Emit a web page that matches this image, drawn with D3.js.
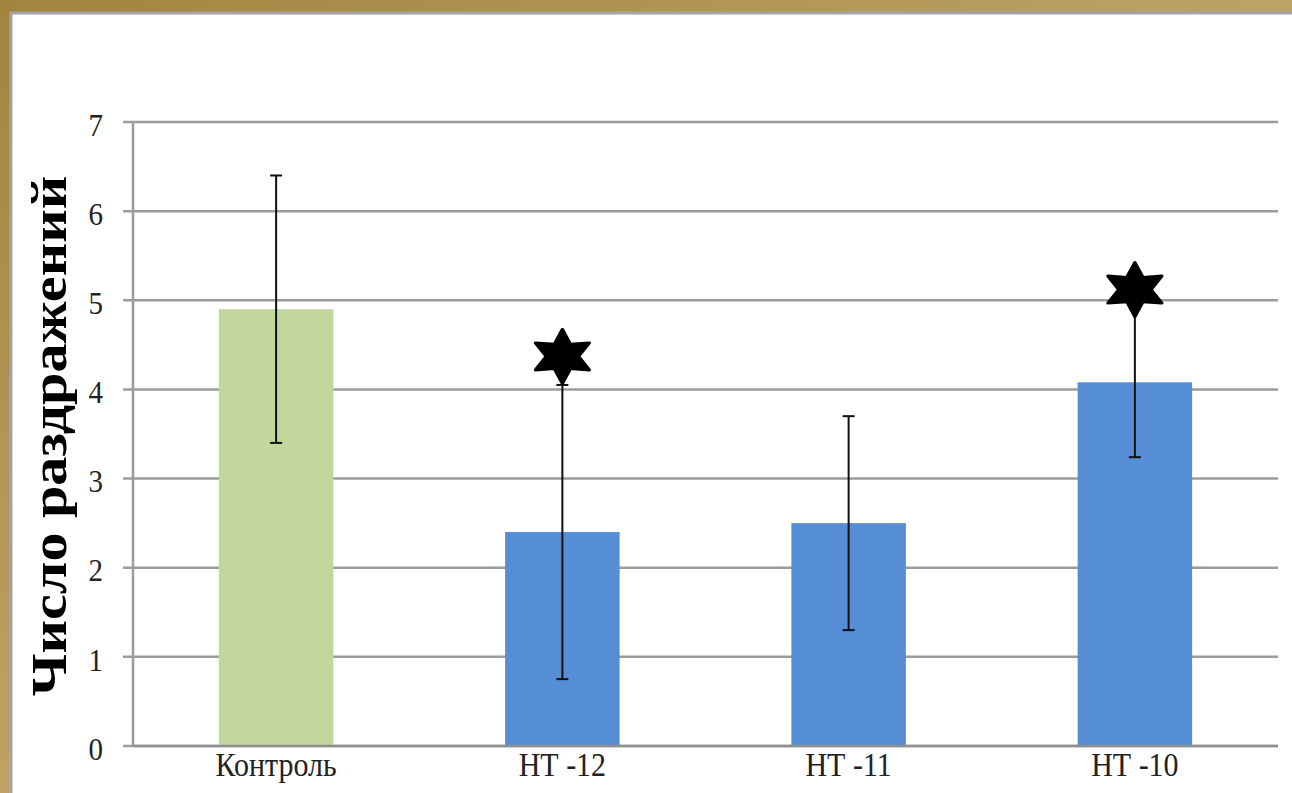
<!DOCTYPE html>
<html>
<head>
<meta charset="utf-8">
<script src="https://cdn.jsdelivr.net/npm/d3@7"></script>
<style>
  html, body { margin: 0; padding: 0; background: #fff; }
  svg { display: block; }
</style>
</head>
<body>
<svg id="chart" width="1292" height="793"></svg>
<script>
// Число раздражений по группам
const categories = ["Контроль", "НТ -12", "НТ -11", "НТ -10"];
const values = [4.9, 2.4, 2.5, 4.08];
const errors = [1.5, 1.65, 1.2, 0.84];
const barColors = ["#c3d69b", "#558ed5", "#558ed5", "#558ed5"];
// значимые отличия (звёздочка над планкой погрешности)
const significant = [false, true, false, true];
const starLevels = [null, 4.37, null, 5.12];
const yTicks = [0, 1, 2, 3, 4, 5, 6, 7];
const yTitle = "Число раздражений";

const W = 1292, H = 793;
const svg = d3.select("#chart");
const serif = "'Liberation Serif', 'DejaVu Serif', serif";

// рамка слайда
const frame = svg.append("g");
const grad = svg.append("defs").append("linearGradient")
  .attr("id", "gold").attr("x1", 0).attr("x2", 1).attr("y1", 0).attr("y2", 1);
grad.append("stop").attr("offset", "0%").attr("stop-color", "#a2843f");
grad.append("stop").attr("offset", "50%").attr("stop-color", "#bca365");
grad.append("stop").attr("offset", "100%").attr("stop-color", "#a88945");
frame.append("rect").attr("x", 0).attr("y", 0).attr("width", W).attr("height", H).attr("fill", "url(#gold)");
frame.append("rect").attr("x", 10).attr("y", 12).attr("width", W - 10).attr("height", H - 12)
  .attr("fill", "#ffffff");
frame.append("path").attr("d", `M11,${H} V13 H${W}`)
  .attr("fill", "none").attr("stroke", "#a4a4a4").attr("stroke-width", 3);

const margin = { left: 133, right: 14, top: 122, bottom: 47 };
const x0 = margin.left, x1 = W - margin.right;
const yTop = margin.top, yBot = H - margin.bottom;

const x = d3.scaleBand().domain(categories).range([x0, x1]).paddingInner(0.6).paddingOuter(0.3);
const y = d3.scaleLinear().domain([0, 7]).range([yBot, yTop]);

// сетка
const grid = svg.append("g");
grid.selectAll("line").data(yTicks).join("line")
  .attr("x1", x0 - 10).attr("x2", x1)
  .attr("y1", d => y(d)).attr("y2", d => y(d))
  .attr("stroke", "#9c9c9c").attr("stroke-width", 2.5);

// ось Y
const yAxis = svg.append("g").attr("transform", `translate(${x0},0)`)
  .call(d3.axisLeft(y).tickValues(yTicks).tickFormat(d3.format("d")).tickSize(0).tickPadding(30));
yAxis.select(".domain").remove();
yAxis.append("line").attr("x1", 0).attr("x2", 0).attr("y1", yTop).attr("y2", yBot)
  .attr("stroke", "#9c9c9c").attr("stroke-width", 2.5);
yAxis.selectAll(".tick text")
  .attr("font-family", serif)
  .attr("font-size", 29).attr("fill", "#222")
  .attr("dy", "0.32em")
  .attr("transform", "translate(0,3) scale(1,1.1)");

// столбцы
svg.append("g").selectAll("rect").data(categories).join("rect")
  .attr("x", d => x(d)).attr("width", x.bandwidth())
  .attr("y", (d, i) => y(values[i]))
  .attr("height", (d, i) => y(0) - y(values[i]))
  .attr("fill", (d, i) => barColors[i]);

// базовая линия
svg.append("line").attr("x1", x0).attr("x2", x1).attr("y1", y(0)).attr("y2", y(0))
  .attr("stroke", "#8f8f8f").attr("stroke-width", 2.5);

// планки погрешностей
const eb = svg.append("g").attr("stroke", "#111").attr("stroke-width", 2);
categories.forEach((c, i) => {
  const cx = x(c) + x.bandwidth() / 2;
  const lo = y(values[i] - errors[i]), hi = y(values[i] + errors[i]);
  eb.append("line").attr("x1", cx).attr("x2", cx).attr("y1", lo).attr("y2", hi);
  eb.append("line").attr("x1", cx - 6).attr("x2", cx + 6).attr("y1", lo).attr("y2", lo);
  eb.append("line").attr("x1", cx - 6).attr("x2", cx + 6).attr("y1", hi).attr("y2", hi);
});

// шестиконечная звезда
function sixStar(R, r) {
  const pts = [];
  for (let k = 0; k < 12; k++) {
    const a = -Math.PI / 2 + k * Math.PI / 6;
    const rad = k % 2 === 0 ? R : r;
    pts.push([rad * Math.cos(a), rad * Math.sin(a)]);
  }
  return d3.line().curve(d3.curveLinearClosed)(pts);
}
svg.append("g").selectAll("path")
  .data(categories.filter((c, i) => significant[i]))
  .join("path")
  .attr("d", sixStar(27, 14))
  .attr("transform", d => {
    const i = categories.indexOf(d);
    return `translate(${x(d) + x.bandwidth() / 2},${y(starLevels[i])}) scale(1.15,1)`;
  })
  .attr("fill", "#000").attr("stroke", "#000").attr("stroke-width", 3).attr("stroke-linejoin", "round");

// подписи категорий
svg.append("g").selectAll("text").data(categories).join("text")
  .attr("transform", d => `translate(${x(d) + x.bandwidth() / 2},${yBot + 30}) scale(1,1.12)`)
  .attr("text-anchor", "middle")
  .attr("font-family", serif)
  .attr("font-size", 30).attr("fill", "#222")
  .text(d => d);

// заголовок оси Y
svg.append("text")
  .attr("transform", `translate(66,436) rotate(-90) scale(1.14,1)`)
  .attr("text-anchor", "middle")
  .attr("font-family", serif)
  .attr("font-weight", "bold").attr("font-size", 51).attr("fill", "#000")
  .text(yTitle);
</script>
</body>
</html>
